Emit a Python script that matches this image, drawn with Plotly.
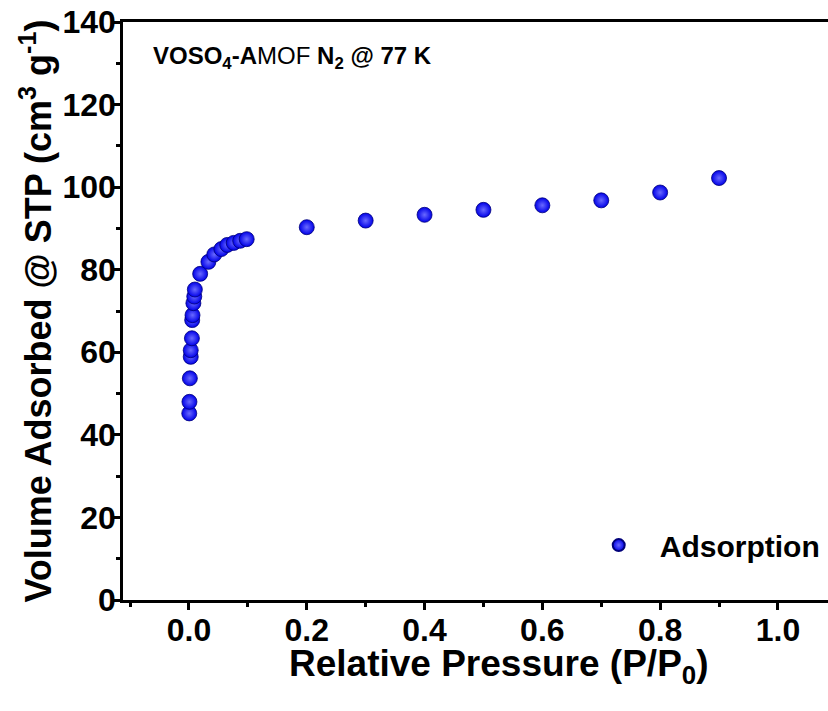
import plotly.graph_objects as go

# Data
pressure = [0.0005, 0.0008, 0.0015, 0.003, 0.003, 0.005, 0.0055, 0.006, 0.0075, 0.009, 0.010,
            0.019, 0.033, 0.043, 0.055, 0.065, 0.076, 0.087, 0.098,
            0.2, 0.3, 0.4, 0.5, 0.6, 0.7, 0.8, 0.9]
volume = [45.2, 48.0, 53.7, 58.9, 60.5, 63.4, 67.8, 69.0, 71.9, 73.5, 75.2,
          79.0, 81.9, 83.7, 85.0, 86.0, 86.5, 87.0, 87.4,
          90.3, 91.9, 93.3, 94.5, 95.6, 96.8, 98.7, 102.2]

x_ticks = [0.0, 0.2, 0.4, 0.6, 0.8, 1.0]
x_tick_labels = ["0.0", "0.2", "0.4", "0.6", "0.8", "1.0"]
y_ticks = [0, 20, 40, 60, 80, 100, 120, 140]

FONT = "Liberation Sans, Arial, sans-serif"

fig = go.Figure()
fig.add_trace(go.Scatter(
    x=pressure, y=volume, mode="markers", name="Adsorption",
    marker=dict(size=15, color="#0000e8",
                gradient=dict(type="radial", color="#6a6aff"),
                line=dict(width=0.8, color="#00007a")),
))

axis_common = dict(showline=True, linecolor="black", linewidth=2.5,
                   ticks="outside", ticklen=7, tickwidth=2.5, tickcolor="black",
                   showgrid=False, zeroline=False, automargin=False,
                   ticklabeloverflow="allow",
                   tickfont=dict(family=FONT, size=32, color="black", weight="bold"))

fig.update_xaxes(range=[-0.112, 1.085], tickvals=x_ticks, ticktext=x_tick_labels,
                 mirror=True, ticklabelstandoff=-7,
                 minor=dict(dtick=0.1, tick0=0, ticks="outside", ticklen=4, tickwidth=2.5, tickcolor="black"),
                 **axis_common)
fig.update_yaxes(range=[0, 140], tickvals=y_ticks, ticklabelstandoff=-9,
                 minor=dict(dtick=10, tick0=0, ticks="outside", ticklen=4, tickwidth=2.5, tickcolor="black"),
                 title=dict(text="Volume Adsorbed @ STP (cm<sup>3</sup> g<sup>-1</sup>)", standoff=0,
                            font=dict(family=FONT, size=36, color="black", weight="bold")),
                 **axis_common)

# x-axis title (the original plot area continues past the right edge of the image,
# so the title is centred on the full original width)
fig.add_annotation(xref="paper", yref="paper", x=0.533, y=-0.114, xanchor="center", yanchor="middle",
                   text="<b>Relative Pressure (P/P<sub>0</sub>)</b>",
                   showarrow=False, font=dict(family=FONT, size=37, color="black"))

fig.add_annotation(xref="paper", yref="paper", x=0.04, y=0.938, xanchor="left", yanchor="middle",
                   text="<b>VOSO<sub>4</sub>-A</b>MOF <b>N<sub>2</sub> @ 77 K</b>",
                   showarrow=False, font=dict(family=FONT, size=24, color="black"))

fig.update_layout(
    width=828, height=711,
    margin=dict(l=123, r=0, t=22, b=111),
    plot_bgcolor="white", paper_bgcolor="white",
    showlegend=True,
    legend=dict(x=0.645, y=0.095, xanchor="left", yanchor="middle",
                bgcolor="rgba(0,0,0,0)", itemsizing="constant", itemwidth=72,
                font=dict(family=FONT, size=30, color="black", weight="bold")),
)

# remove the browser's default page margin so the figure fills the window exactly
fig.write_html("out.html", config={"displayModeBar": False},
               post_script="document.body.style.margin='0';document.body.style.overflow='hidden';")
